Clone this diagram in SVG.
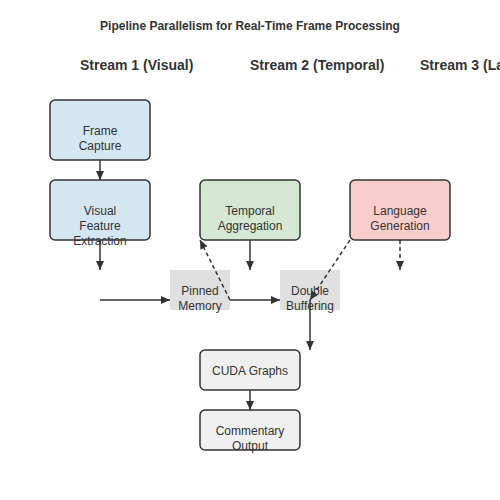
<svg xmlns="http://www.w3.org/2000/svg" width="500" height="500" viewBox="0 0 500 500">
<style>
text{font-family:"Liberation Sans",Arial,sans-serif;fill:#333;}
.t{font-size:12px;font-weight:bold;text-anchor:middle;}
.s{font-size:14px;font-weight:bold;}
.l{font-size:12px;text-anchor:middle;}
.box{stroke:#333;stroke-width:1.5;}
.c{stroke:#333;stroke-width:1.5;fill:none;}
.d{stroke-dasharray:4,3;}
</style>
<defs>
<marker id="ah" markerWidth="10" markerHeight="10" refX="9" refY="5" orient="auto" markerUnits="userSpaceOnUse">
<path d="M0,1 L9,5 L0,9 Z" fill="#333"/>
</marker>
</defs>
<rect width="500" height="500" fill="#fff"/>
<text class="t" x="250" y="30">Pipeline Parallelism for Real-Time Frame Processing</text>
<text class="s" x="80" y="70">Stream 1 (Visual)</text>
<text class="s" x="250" y="70">Stream 2 (Temporal)</text>
<text class="s" x="420" y="70">Stream 3 (Language)</text>
<g id="frame-capture">
<rect class="box" x="50" y="100" width="100" height="60" rx="5" fill="#d4e6f1"/>
<text class="l" x="100" y="135">Frame</text>
<text class="l" x="100" y="150">Capture</text>
</g>
<g id="visual-feature">
<rect class="box" x="50" y="180" width="100" height="60" rx="5" fill="#d4e6f1"/>
<text class="l" x="100" y="215">Visual</text>
<text class="l" x="100" y="230">Feature</text>
<text class="l" x="100" y="245">Extraction</text>
</g>
<g id="temporal">
<rect class="box" x="200" y="180" width="100" height="60" rx="5" fill="#d5e8d4"/>
<text class="l" x="250" y="215">Temporal</text>
<text class="l" x="250" y="230">Aggregation</text>
</g>
<g id="language">
<rect class="box" x="350" y="180" width="100" height="60" rx="5" fill="#f8cecc"/>
<text class="l" x="400" y="215">Language</text>
<text class="l" x="400" y="230">Generation</text>
</g>
<g id="pinned">
<rect x="170" y="270" width="60" height="40" fill="#e0e0e0"/>
<text class="l" x="200" y="295">Pinned</text>
<text class="l" x="200" y="310">Memory</text>
</g>
<g id="double">
<rect x="280" y="270" width="60" height="40" fill="#e0e0e0"/>
<text class="l" x="310" y="295">Double</text>
<text class="l" x="310" y="310">Buffering</text>
</g>
<g id="cuda">
<rect class="box" x="200" y="350" width="100" height="40" rx="5" fill="#f0f0f0"/>
<text class="l" x="250" y="375">CUDA Graphs</text>
</g>
<g id="commentary">
<rect class="box" x="200" y="410" width="100" height="40" rx="5" fill="#f0f0f0"/>
<text class="l" x="250" y="435">Commentary</text>
<text class="l" x="250" y="450">Output</text>
</g>
<g id="connectors">
<line class="c" x1="100" y1="160" x2="100" y2="180" marker-end="url(#ah)"/>
<line class="c" x1="100" y1="240" x2="100" y2="270" marker-end="url(#ah)"/>
<line class="c" x1="250" y1="240" x2="250" y2="270" marker-end="url(#ah)"/>
<line class="c d" x1="400" y1="240" x2="400" y2="270" marker-end="url(#ah)"/>
<line class="c" x1="100" y1="300" x2="170" y2="300" marker-end="url(#ah)"/>
<line class="c" x1="230" y1="300" x2="280" y2="300" marker-end="url(#ah)"/>
<line class="c d" x1="230" y1="300" x2="200" y2="240" marker-end="url(#ah)"/>
<line class="c d" x1="350" y1="240" x2="310" y2="300" marker-end="url(#ah)"/>
<line class="c" x1="310" y1="300" x2="310" y2="350" marker-end="url(#ah)"/>
<line class="c" x1="250" y1="390" x2="250" y2="410" marker-end="url(#ah)"/>
</g>
</svg>
